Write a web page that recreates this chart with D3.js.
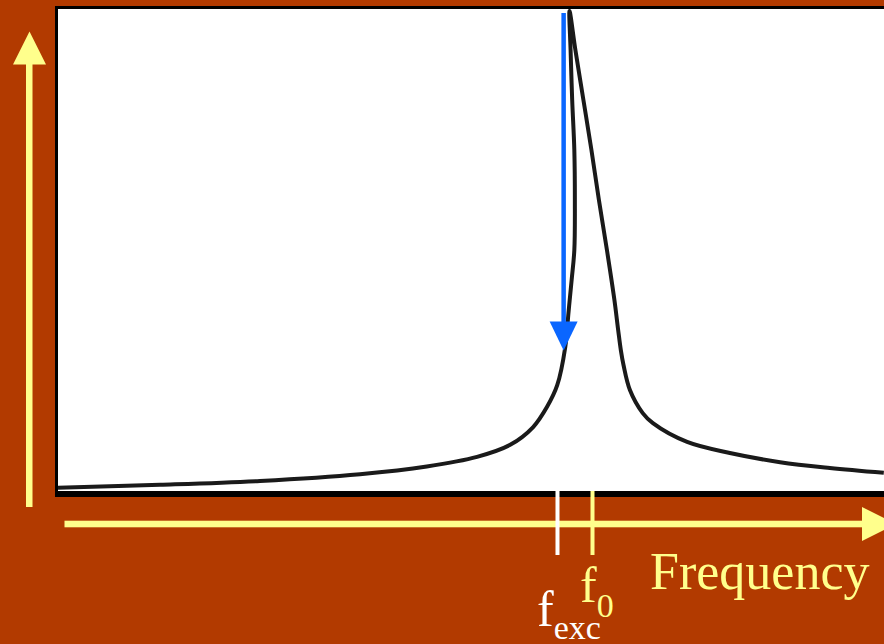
<!DOCTYPE html>
<html>
<head>
<meta charset="utf-8">
<script src="https://cdn.jsdelivr.net/npm/d3@7"></script>
<style>
  html, body { margin: 0; padding: 0; background: #b23a00; }
  svg { display: block; }
</style>
</head>
<body>
<svg id="chart" width="884" height="644"></svg>
<script>
// Response curve of a driven oscillator (normalised frequency vs. amplitude)
const freq = [0.000, 0.191, 0.378, 0.565, 0.690, 0.784, 0.846, 0.889, 0.915, 0.934,
              0.949, 0.955, 0.961, 0.966, 0.967, 0.966, 0.962, 0.959, 0.957,
              0.968, 0.983, 0.998, 1.012, 1.027, 1.041, 1.048, 1.053, 1.058, 1.070,
              1.094, 1.113, 1.177, 1.257, 1.351, 1.444, 1.545];
const amp  = [0.009, 0.015, 0.023, 0.037, 0.053, 0.073, 0.098, 0.135, 0.177, 0.222,
              0.301, 0.372, 0.441, 0.503, 0.607, 0.711, 0.815, 0.919, 1.000,
              0.919, 0.815, 0.711, 0.607, 0.503, 0.399, 0.337, 0.295, 0.264, 0.212,
              0.164, 0.143, 0.104, 0.081, 0.062, 0.050, 0.040];

// Marked frequencies: excitation and natural frequency
const markerFreqs  = [0.9345, 1.0];
const markerSubs   = ["exc", "0"];
const markerColors = ["#ffffff", "#ffff8c"];

// Amplitude jump when the drive sweeps down past the fold
const jumpFreq = [0.946];
const jumpAmp  = [0.996, 0.294];

const axisLabel = "Frequency";

const svg = d3.select("#chart");
const yellow = "#ffff8c";

const x = d3.scaleLinear().domain([0, 1]).range([58, 592.5]);
const y = d3.scaleLinear().domain([0, 1]).range([492, 11]);

// Frame of the plot panel
svg.append("rect").attr("x", 55).attr("y", 6).attr("width", 845).attr("height", 491)
  .attr("fill", "#000");
svg.append("rect").attr("x", 58).attr("y", 9).attr("width", 840).attr("height", 482)
  .attr("fill", "#ffffff");

// Response curve
const pts = freq.map((f, i) => [f, amp[i]]);
const line = d3.line()
  .x(d => x(d[0]))
  .y(d => y(d[1]))
  .curve(d3.curveCatmullRom.alpha(0.5));

svg.append("clipPath").attr("id", "plotClip")
  .append("rect").attr("x", 58).attr("y", 9).attr("width", 840).attr("height", 482);

svg.append("path")
  .datum(pts)
  .attr("d", line)
  .attr("fill", "none")
  .attr("stroke", "#1a1a1a")
  .attr("stroke-width", 4)
  .attr("stroke-linejoin", "miter")
  .attr("clip-path", "url(#plotClip)");

// Blue jump arrow
const jx = x(jumpFreq[0]);
const jTop = y(jumpAmp[0]);
const jTip = y(jumpAmp[1]);
const headH = 29, headW = 28;
svg.append("line")
  .attr("x1", jx).attr("x2", jx)
  .attr("y1", jTop).attr("y2", jTip - headH + 2)
  .attr("stroke", "#0a66ff").attr("stroke-width", 4.5);
svg.append("path")
  .attr("d", `M${jx - headW / 2},${jTip - headH} L${jx + headW / 2},${jTip - headH} L${jx},${jTip} Z`)
  .attr("fill", "#0a66ff");

// Axis arrows
svg.append("rect").attr("x", 26).attr("y", 62).attr("width", 6.5).attr("height", 445)
  .attr("fill", yellow);
svg.append("path").attr("d", "M29.5,31.5 L46,64.5 L13,64.5 Z").attr("fill", yellow);

svg.append("rect").attr("x", 64.5).attr("y", 520.7).attr("width", 800).attr("height", 6.6)
  .attr("fill", yellow);
svg.append("path").attr("d", "M862,507 L896,524 L862,541 Z").attr("fill", yellow);

// Frequency markers
const serif = "'Liberation Serif', 'Times New Roman', serif";
markerFreqs.forEach((f, i) => {
  const mx = x(f);
  svg.append("rect")
    .attr("x", mx - 2).attr("y", 491).attr("width", 4).attr("height", 64)
    .attr("fill", markerColors[i]);
});

const labelPos = [{ fx: 537, base: 626, sub: 639 }, { fx: 580, base: 602, sub: 617 }];
markerSubs.forEach((s, i) => {
  const p = labelPos[i];
  const t = svg.append("text")
    .attr("font-family", serif)
    .attr("fill", markerColors[i]);
  t.append("tspan").attr("x", p.fx).attr("y", p.base).attr("font-size", 50).text("f");
  t.append("tspan").attr("y", p.sub).attr("font-size", 34).text(s);
});

svg.append("text")
  .attr("x", 650).attr("y", 589)
  .attr("font-family", serif)
  .attr("font-size", 52)
  .attr("fill", yellow)
  .text(axisLabel);
</script>
</body>
</html>
